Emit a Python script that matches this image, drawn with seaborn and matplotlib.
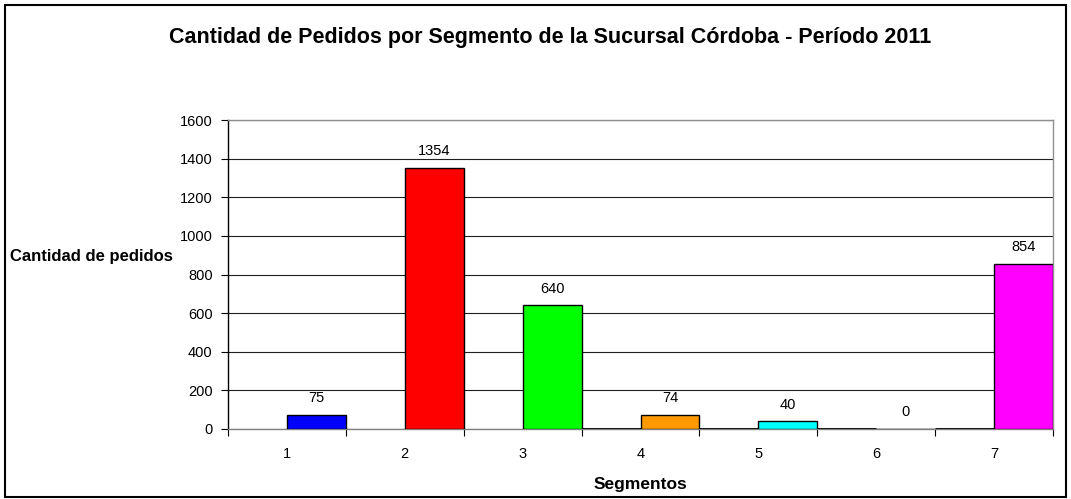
import numpy as np
import pandas as pd
import matplotlib
matplotlib.use("Agg")
import matplotlib.pyplot as plt
import seaborn as sns
from matplotlib.patches import Rectangle

segmentos = ["1", "2", "3", "4", "5", "6", "7"]
serie_a = [np.nan, np.nan, np.nan, 0, 0, 0, 0]
pedidos = [75, 1354, 640, 74, 40, 0, 854]
colores = ["#0000FF", "#FF0000", "#00FF00", "#FF9900", "#00FFFF", "#808080", "#FF00FF"]

sns.set_theme(style="white")
plt.rcParams["font.family"] = ["Liberation Sans", "DejaVu Sans"]
plt.rcParams["text.color"] = "black"
plt.rcParams["xtick.color"] = "black"
plt.rcParams["ytick.color"] = "black"

df = pd.DataFrame({
    "Segmento": segmentos * 2,
    "Serie": ["A"] * 7 + ["B"] * 7,
    "Valor": serie_a + pedidos,
})

fig = plt.figure(figsize=(10.71, 4.99), dpi=100)
ax = fig.add_axes([228 / 1071, 1 - 429 / 499, (1053 - 228) / 1071, (429 - 120) / 499])

sns.barplot(data=df, x="Segmento", y="Valor", hue="Serie", order=segmentos,
            hue_order=["A", "B"], width=1.0, dodge=True, gap=0,
            palette=["#9999FF", "#FF0000"], edgecolor="black", linewidth=1.0,
            legend=False, ax=ax, errorbar=None, zorder=3)

cont_a, cont_b = ax.containers[0], ax.containers[1]
for p in cont_a:
    p.set_linewidth(2.0)
for p, c in zip(cont_b, colores):
    p.set_facecolor(c)
ax.bar_label(cont_b, labels=[str(v) for v in pedidos], padding=7, fontsize=10.5, color="black")

ax.set_ylim(0, 1600)
ax.set_xlim(-0.5, 6.5)
ax.set_yticks(np.arange(0, 1601, 200))
ax.yaxis.grid(True, color="#202020", linewidth=0.8)
ax.set_axisbelow(True)
ax.set_xticks(range(7))
ax.set_xticklabels(segmentos)
ax.set_xticks(np.arange(-0.5, 7, 1.0), minor=True)
ax.tick_params(axis="x", which="major", length=0, pad=13, labelsize=10.5, labelcolor="black")
ax.tick_params(axis="x", which="minor", length=5, width=0.8, color="black", direction="out", bottom=True)
ax.tick_params(axis="y", length=5, width=0.8, color="black", direction="out", left=True,
               labelsize=10.5, pad=6, labelcolor="black")
for s in ax.spines.values():
    s.set_color("#909090")
    s.set_linewidth(1.0)
ax.spines["left"].set_color("black")
ax.spines["bottom"].set_color("#808080")
ax.set_xlabel("")
ax.set_ylabel("")

fig.text(0.514, 1 - 37 / 499, "Cantidad de Pedidos por Segmento de la Sucursal Córdoba - Período 2011",
         ha="center", va="center", fontsize=15.5, fontweight="bold", color="black")
fig.text(10 / 1071, 1 - 257 / 499, "Cantidad de pedidos", ha="left", va="center",
         fontsize=12, fontweight="bold", color="black")
fig.text(640 / 1071, 1 - 484 / 499, "Segmentos", ha="center", va="center",
         fontsize=12.5, fontweight="bold", color="black")

fig.patches.append(Rectangle((5 / 1071, 2 / 499), 1061 / 1071, 492 / 499, transform=fig.transFigure,
                             fill=False, edgecolor="black", linewidth=1.5))

fig.savefig("out.png", dpi=100)
